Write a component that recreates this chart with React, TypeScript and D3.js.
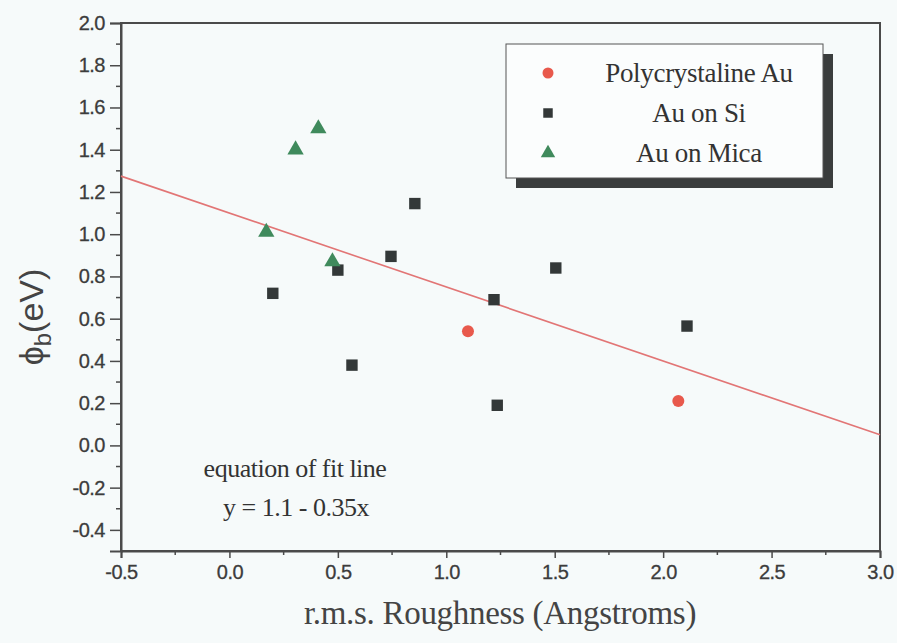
import React, { useEffect, useRef } from "react";
import * as d3 from "d3";

// roughness (Angstroms) vs barrier height (eV)
const polyX = [1.1, 2.07];
const polyY = [0.54, 0.21];
const siX = [0.2, 0.5, 0.565, 0.745, 0.855, 1.22, 1.235, 1.505, 2.11];
const siY = [0.72, 0.83, 0.38, 0.895, 1.145, 0.69, 0.19, 0.84, 0.565];
const micaX = [0.17, 0.305, 0.41, 0.475];
const micaY = [1.01, 1.4, 1.5, 0.87];

const fitIntercept = 1.1;
const fitSlope = -0.35;

const xTicks = [-0.5, 0, 0.5, 1.0, 1.5, 2.0, 2.5, 3.0];
const yTicks = [-0.4, -0.2, 0, 0.2, 0.4, 0.6, 0.8, 1.0, 1.2, 1.4, 1.6, 1.8, 2.0];

const legendLabels = ["Polycrystaline Au", "Au on Si", "Au on Mica"];

const W = 897;
const H = 643;

// plain hyphen instead of d3's unicode minus
const fmt = (d: number) => d.toFixed(1);

const App = () => {
  const svgRef = useRef<SVGSVGElement>(null);

  useEffect(() => {
    const svg = d3.select(svgRef.current);
    svg.selectAll("*").remove();

    const x = d3.scaleLinear().domain([-0.5, 3.0]).range([121, 880]);
    const y = d3.scaleLinear().domain([-0.5, 2.0]).range([551, 23]);

    svg.append("rect").attr("width", W).attr("height", H).attr("fill", "#f6fafa");

    const axisColor = "#4a4a4a";
    const sans = "'Liberation Sans', Arial, sans-serif";
    const serif = "'Liberation Serif', 'Times New Roman', serif";

    // frame
    svg
      .append("rect")
      .attr("x", x(-0.5))
      .attr("y", y(2.0))
      .attr("width", x(3.0) - x(-0.5))
      .attr("height", y(-0.5) - y(2.0))
      .attr("fill", "none")
      .attr("stroke", axisColor)
      .attr("stroke-width", 2);

    // x axis
    const xAxis = d3
      .axisBottom(x)
      .tickValues(xTicks)
      .tickSize(7)
      .tickPadding(7)
      .tickFormat(fmt);
    const gx = svg.append("g").attr("transform", `translate(0,${y(-0.5)})`).call(xAxis);
    const xMinor = d3.range(-0.25, 3.0, 0.5);
    gx.selectAll(".minor")
      .data(xMinor)
      .enter()
      .append("line")
      .attr("x1", (d) => x(d))
      .attr("x2", (d) => x(d))
      .attr("y1", 0)
      .attr("y2", 4)
      .attr("stroke", axisColor)
      .attr("stroke-width", 1.5);

    // y axis
    const yAxis = d3
      .axisLeft(y)
      .tickValues(yTicks)
      .tickSize(11)
      .tickPadding(5)
      .tickFormat(fmt);
    const gy = svg.append("g").attr("transform", `translate(${x(-0.5)},0)`).call(yAxis);
    const yMinor = d3.range(-0.3, 2.0, 0.2);
    gy.selectAll(".minor")
      .data(yMinor)
      .enter()
      .append("line")
      .attr("x1", 0)
      .attr("x2", -5)
      .attr("y1", (d) => y(d))
      .attr("y2", (d) => y(d))
      .attr("stroke", axisColor)
      .attr("stroke-width", 1.5);

    [gx, gy].forEach((g) => {
      g.attr("font-size", null).attr("font-family", null);
      g.select(".domain").attr("stroke", axisColor).attr("stroke-width", 2);
      g.selectAll(".tick line").attr("stroke", axisColor).attr("stroke-width", 1.5);
      g.selectAll(".tick text")
        .attr("fill", "#3c3c3c")
        .attr("stroke", "#3c3c3c")
        .attr("stroke-width", 0.3)
        .attr("font-family", sans)
        .attr("font-size", 20)
        .attr("letter-spacing", -0.5);
    });

    // fit line
    const fitLine = d3
      .line<number>()
      .x((d) => x(d))
      .y((d) => y(fitIntercept + fitSlope * d));
    svg
      .append("path")
      .attr("d", fitLine(x.domain()))
      .attr("fill", "none")
      .attr("stroke", "#e27575")
      .attr("stroke-width", 1.6);

    // markers
    const square = d3.symbol().type(d3.symbolSquare).size(130);
    const triangle = d3.symbol().type(d3.symbolTriangle).size(115);

    svg
      .append("g")
      .selectAll("path")
      .data(d3.range(siX.length))
      .enter()
      .append("path")
      .attr("d", square)
      .attr("transform", (i) => `translate(${x(siX[i])},${y(siY[i])})`)
      .attr("fill", "#333838");

    svg
      .append("g")
      .selectAll("path")
      .data(d3.range(micaX.length))
      .enter()
      .append("path")
      .attr("d", triangle)
      .attr("transform", (i) => `translate(${x(micaX[i])},${y(micaY[i])})`)
      .attr("fill", "#3f8a5c");

    svg
      .append("g")
      .selectAll("circle")
      .data(d3.range(polyX.length))
      .enter()
      .append("circle")
      .attr("cx", (i) => x(polyX[i]))
      .attr("cy", (i) => y(polyY[i]))
      .attr("r", 6)
      .attr("fill", "#e8594c");

    // legend
    const lg = svg.append("g");
    lg.append("rect")
      .attr("x", 516)
      .attr("y", 54)
      .attr("width", 317)
      .attr("height", 134)
      .attr("fill", "#3a3d3d");
    lg.append("rect")
      .attr("x", 506)
      .attr("y", 44)
      .attr("width", 317)
      .attr("height", 134)
      .attr("fill", "#fbfdfd")
      .attr("stroke", "#555")
      .attr("stroke-width", 1);
    const rowY = [73, 113, 153];
    lg.append("circle").attr("cx", 548).attr("cy", rowY[0]).attr("r", 5.5).attr("fill", "#e8594c");
    lg.append("path")
      .attr("d", d3.symbol().type(d3.symbolSquare).size(90))
      .attr("transform", `translate(548,${rowY[1]})`)
      .attr("fill", "#333838");
    lg.append("path")
      .attr("d", d3.symbol().type(d3.symbolTriangle).size(90))
      .attr("transform", `translate(548,${rowY[2]})`)
      .attr("fill", "#3f8a5c");
    lg.selectAll("text")
      .data(legendLabels)
      .enter()
      .append("text")
      .attr("x", 699)
      .attr("y", (d, i) => rowY[i] + 9)
      .attr("text-anchor", "middle")
      .attr("fill", "#333")
      .attr("font-family", serif)
      .attr("font-size", 27)
      .attr("letter-spacing", -0.3)
      .text((d) => d);

    // annotation
    svg
      .append("text")
      .attr("x", 295)
      .attr("y", 477)
      .attr("text-anchor", "middle")
      .attr("fill", "#333")
      .attr("font-family", serif)
      .attr("font-size", 26)
      .attr("letter-spacing", -0.5)
      .text("equation of fit line");
    svg
      .append("text")
      .attr("x", 296)
      .attr("y", 516)
      .attr("text-anchor", "middle")
      .attr("fill", "#333")
      .attr("font-family", serif)
      .attr("font-size", 26)
      .attr("letter-spacing", -0.5)
      .text(`y = ${fitIntercept} - ${Math.abs(fitSlope)}x`);

    // axis titles
    svg
      .append("text")
      .attr("x", 500)
      .attr("y", 624)
      .attr("text-anchor", "middle")
      .attr("fill", "#444")
      .attr("font-family", serif)
      .attr("font-size", 33)
      .attr("letter-spacing", -0.3)
      .text("r.m.s. Roughness (Angstroms)");

    const yt = svg
      .append("text")
      .attr("transform", `translate(43,317) rotate(-90)`)
      .attr("text-anchor", "middle")
      .attr("fill", "#444")
      .attr("font-family", sans)
      .attr("font-size", 34);
    yt.append("tspan").text("\u03d5");
    yt.append("tspan").attr("dy", 8).attr("font-size", 24).text("b");
    yt.append("tspan").attr("dy", -8).text("(eV)");
  }, []);

  return (
    <svg
      ref={svgRef}
      width={W}
      height={H}
      style={{ position: "absolute", left: 0, top: 0, display: "block" }}
    />
  );
};

export default App;
